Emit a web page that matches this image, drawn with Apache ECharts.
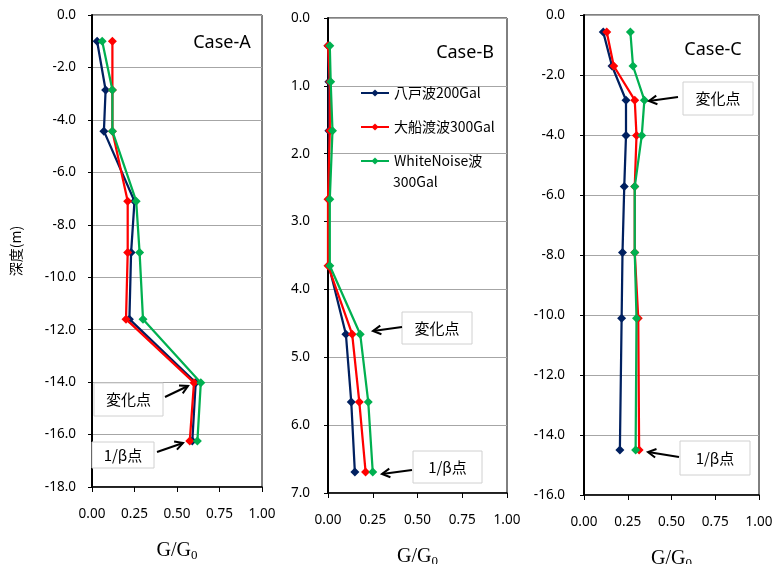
<!DOCTYPE html>
<html>
<head>
<meta charset="utf-8">
<script src="https://cdn.jsdelivr.net/npm/echarts@6/dist/echarts.min.js"></script>
<style>
html,body{margin:0;padding:0;background:#fff;}
#chart{width:775px;height:564px;}
</style>
</head>
<body>
<div id="chart"></div>
<script>
// ---- data ----
const seriesNames = ['八戸波200Gal', '大船渡波300Gal', 'WhiteNoise波300Gal'];
const xTicks = [0, 0.25, 0.5, 0.75, 1.0];

const depthA = [-1.0, -2.86, -4.43, -7.1, -9.06, -11.6, -14.02, -16.25];
const aHachinohe = [0.03, 0.08, 0.07, 0.25, 0.23, 0.22, 0.61, 0.59];
const aOfunato   = [0.12, 0.12, 0.12, 0.21, 0.21, 0.20, 0.60, 0.575];
const aWhite     = [0.06, 0.12, 0.12, 0.26, 0.28, 0.30, 0.64, 0.62];

const depthB = [0.41, 0.94, 1.66, 2.67, 3.65, 4.66, 5.66, 6.69];
const bHachinohe = [0.0, 0.005, 0.005, 0.005, 0.005, 0.10, 0.13, 0.15];
const bOfunato   = [0.0, 0.01, 0.01, 0.0, 0.0, 0.135, 0.175, 0.21];
const bWhite     = [0.01, 0.015, 0.025, 0.01, 0.01, 0.18, 0.225, 0.25];

const depthC = [-0.57, -1.7, -2.84, -4.02, -5.72, -7.92, -10.11, -14.5];
const cHachinohe = [0.11, 0.16, 0.24, 0.24, 0.23, 0.22, 0.215, 0.205];
const cOfunato   = [0.13, 0.17, 0.29, 0.30, 0.29, 0.29, 0.31, 0.315];
const cWhite     = [0.265, 0.28, 0.345, 0.33, 0.29, 0.29, 0.30, 0.295];

const colors = ['#002060', '#ff0000', '#00b050'];
const JP = '"Noto Sans CJK JP", "Noto Sans", sans-serif';
const LAT = '"Noto Sans", "Noto Sans CJK JP", sans-serif';

function pair(xs, ys) { return xs.map((x, i) => [x, ys[i]]); }

const grids = [
  { left: 92, top: 15, width: 170, height: 472 },
  { left: 328, top: 18, width: 179, height: 475 },
  { left: 584, top: 15, width: 175, height: 480 }
];
grids.forEach(g => {
  g.show = true; g.borderColor = '#000'; g.borderWidth = 1; g.backgroundColor = '#fff';
  g.containLabel = false; g.outerBoundsMode = 'none';
});

const xLabelMargin = [20, 20, 20];
const xAxes = grids.map((g, i) => ({
  gridIndex: i, type: 'value', min: 0, max: 1, interval: 0.25,
  axisLine: { show: true, onZero: false, lineStyle: { color: '#000', width: 1.5 } },
  axisTick: { show: true, length: 5, lineStyle: { color: '#000' } },
  axisLabel: { color: '#000', fontSize: 13.5, fontFamily: LAT, margin: xLabelMargin[i], formatter: v => v.toFixed(2) },
  splitLine: { show: false },
  name: '{a|G/G}{b|0}', nameLocation: 'middle', nameGap: 53,
  nameTextStyle: {
    rich: {
      a: { fontFamily: '"Liberation Serif", serif', fontSize: 20, color: '#000' },
      b: { fontFamily: '"Liberation Serif", serif', fontSize: 13, color: '#000', padding: [9, 0, 0, 0] }
    }
  }
}));

const yCommon = (i) => ({
  gridIndex: i, type: 'value',
  axisLine: { show: true, onZero: false, lineStyle: { color: '#000', width: 2 } },
  axisTick: { show: true, length: 4, lineStyle: { color: '#000' } },
  axisLabel: { color: '#000', fontSize: 13.5, fontFamily: LAT, formatter: v => v.toFixed(1) },
  splitLine: { show: true, lineStyle: { color: '#a6a6a6', width: 1 } }
});
const yAxes = [
  Object.assign(yCommon(0), { min: -18, max: 0, interval: 2,
    name: '深度(m)', nameLocation: 'middle', nameGap: 69,
    nameTextStyle: { fontFamily: JP, fontSize: 14, color: '#000' } }),
  Object.assign(yCommon(1), { min: 0, max: 7, interval: 1, inverse: true }),
  Object.assign(yCommon(2), { min: -16, max: 0, interval: 2 })
];
yAxes[0].axisLabel.margin = 16;
yAxes[1].axisLabel.margin = 18;
yAxes[2].axisLabel.margin = 19;

const panels = [
  [depthA, [aHachinohe, aOfunato, aWhite]],
  [depthB, [bHachinohe, bOfunato, bWhite]],
  [depthC, [cHachinohe, cOfunato, cWhite]]
];
const series = [];
panels.forEach(([depth, vals], gi) => {
  vals.forEach((v, si) => {
    series.push({
      name: seriesNames[si], type: 'line', xAxisIndex: gi, yAxisIndex: gi,
      data: pair(v, depth), symbol: 'diamond', symbolSize: 9,
      lineStyle: { color: colors[si], width: 2.25 },
      itemStyle: { color: colors[si] },
      z: 3 + si, animation: false
    });
  });
});

function arrow(x1, y1, x2, y2) {
  const ang = Math.atan2(y2 - y1, x2 - x1);
  const L = 9, w = 0.5;
  const p1 = [x2 - L * Math.cos(ang - w), y2 - L * Math.sin(ang - w)];
  const p2 = [x2 - L * Math.cos(ang + w), y2 - L * Math.sin(ang + w)];
  return [
    { type: 'line', shape: { x1, y1, x2, y2 }, style: { stroke: '#000', lineWidth: 2 }, z: 20 },
    { type: 'polyline', shape: { points: [p1, [x2, y2], p2] }, style: { stroke: '#000', lineWidth: 2, fill: null }, z: 20 }
  ];
}
function box(x, y, w, h, text) {
  return [
    { type: 'rect', shape: { x, y, width: w, height: h }, style: { fill: '#fff', stroke: '#d0d0d0', lineWidth: 1 }, z: 20 },
    { type: 'text', x: x + w / 2, y: y + h / 2, style: { text, fill: '#000', font: '15px ' + JP, align: 'center', verticalAlign: 'middle' }, z: 21 }
  ];
}
function label(x, y, text) {
  return { type: 'text', x, y, style: { text, fill: '#000', font: '18px ' + LAT, align: 'center', verticalAlign: 'middle' }, z: 21 };
}

const graphics = [].concat(
  label(222, 43, 'Case-A'), label(465, 53, 'Case-B'), label(713, 50, 'Case-C'),
  box(94, 383, 69, 33, '変化点'), arrow(165, 397, 188, 386),
  box(92, 442, 62, 26, '1/β点'), arrow(157, 452, 183, 443),
  box(402, 312, 70, 32, '変化点'), arrow(402, 327, 373, 331),
  box(413, 451, 69, 32, '1/β点'), arrow(412, 470, 382, 474),
  box(683, 82, 70, 33, '変化点'), arrow(678, 97, 649, 101),
  box(680, 441, 70, 34, '1/β点'), arrow(679, 457, 648, 452),
  [{ type: 'text', x: 393, y: 182, style: { text: '300Gal', fill: '#000', font: '14px ' + JP, verticalAlign: 'middle' }, z: 21 }]
);

const chart = echarts.init(document.getElementById('chart'), null, { renderer: 'canvas' });
chart.setOption({
  animation: false,
  backgroundColor: '#fff',
  grid: grids,
  xAxis: xAxes,
  yAxis: yAxes,
  legend: {
    data: seriesNames, orient: 'vertical', left: 360, top: 85, padding: 0,
    itemWidth: 28, itemHeight: 9, itemGap: 18,
    textStyle: { fontFamily: JP, fontSize: 14, color: '#000', lineHeight: 16 },
    formatter: n => n === 'WhiteNoise波300Gal' ? 'WhiteNoise波' : n
  },
  series,
  graphic: graphics
});
</script>
</body>
</html>
